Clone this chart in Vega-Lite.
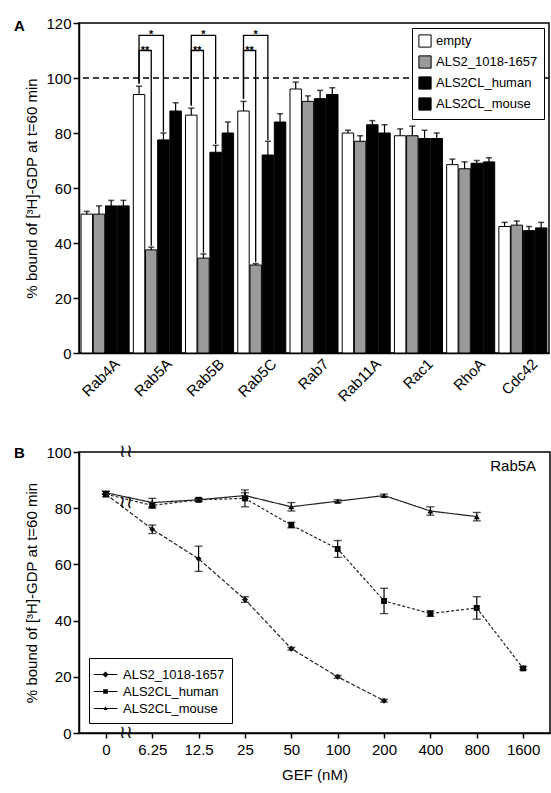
{
  "$schema": "https://vega.github.io/schema/vega-lite/v6.json",
  "background": "white",
  "padding": {"left": 13, "top": 15, "right": 0, "bottom": 5},
  "spacing": 37,
  "resolve": {"scale": {"fill": "independent", "shape": "independent", "strokeDash": "independent"}, "legend": {"fill": "independent", "shape": "independent", "strokeDash": "independent"}},
  "config": {
    "font": "Liberation Sans",
    "view": {"stroke": "black", "strokeWidth": 1.5},
    "axis": {"domainColor": "black", "domainWidth": 1.5, "tickColor": "black", "tickWidth": 1.5, "labelColor": "black", "titleColor": "black", "labelFontSize": 15, "titleFontSize": 15, "titleFontWeight": "normal", "grid": false},
    "legend": {"labelColor": "black", "labelFontSize": 13, "strokeColor": "black", "padding": 5, "fillColor": "white"},
    "title": {"color": "black"}
  },
  "datasets": {
    "bars": [
      {"gene": "Rab4A", "group": "empty", "value": 50.5, "err": 1},
      {"gene": "Rab4A", "group": "ALS2_1018-1657", "value": 50.5, "err": 3},
      {"gene": "Rab4A", "group": "ALS2CL_human", "value": 53.5, "err": 2},
      {"gene": "Rab4A", "group": "ALS2CL_mouse", "value": 53.5, "err": 2},
      {"gene": "Rab5A", "group": "empty", "value": 94, "err": 3},
      {"gene": "Rab5A", "group": "ALS2_1018-1657", "value": 37.5, "err": 1},
      {"gene": "Rab5A", "group": "ALS2CL_human", "value": 77.5, "err": 2.5},
      {"gene": "Rab5A", "group": "ALS2CL_mouse", "value": 88, "err": 3},
      {"gene": "Rab5B", "group": "empty", "value": 86.5, "err": 2.5},
      {"gene": "Rab5B", "group": "ALS2_1018-1657", "value": 34.5, "err": 1.5},
      {"gene": "Rab5B", "group": "ALS2CL_human", "value": 73, "err": 2.5},
      {"gene": "Rab5B", "group": "ALS2CL_mouse", "value": 80, "err": 4},
      {"gene": "Rab5C", "group": "empty", "value": 88, "err": 3.5},
      {"gene": "Rab5C", "group": "ALS2_1018-1657", "value": 32, "err": 0.5},
      {"gene": "Rab5C", "group": "ALS2CL_human", "value": 72, "err": 5},
      {"gene": "Rab5C", "group": "ALS2CL_mouse", "value": 84, "err": 3},
      {"gene": "Rab7", "group": "empty", "value": 96, "err": 2.5},
      {"gene": "Rab7", "group": "ALS2_1018-1657", "value": 91.5, "err": 2},
      {"gene": "Rab7", "group": "ALS2CL_human", "value": 92.5, "err": 3},
      {"gene": "Rab7", "group": "ALS2CL_mouse", "value": 94, "err": 2.5},
      {"gene": "Rab11A", "group": "empty", "value": 80, "err": 1},
      {"gene": "Rab11A", "group": "ALS2_1018-1657", "value": 77, "err": 2},
      {"gene": "Rab11A", "group": "ALS2CL_human", "value": 83, "err": 1.5},
      {"gene": "Rab11A", "group": "ALS2CL_mouse", "value": 80, "err": 3},
      {"gene": "Rac1", "group": "empty", "value": 79, "err": 2.5},
      {"gene": "Rac1", "group": "ALS2_1018-1657", "value": 79, "err": 3.5},
      {"gene": "Rac1", "group": "ALS2CL_human", "value": 78, "err": 3},
      {"gene": "Rac1", "group": "ALS2CL_mouse", "value": 78, "err": 2},
      {"gene": "RhoA", "group": "empty", "value": 68.5, "err": 2},
      {"gene": "RhoA", "group": "ALS2_1018-1657", "value": 67, "err": 2.5},
      {"gene": "RhoA", "group": "ALS2CL_human", "value": 69, "err": 1},
      {"gene": "RhoA", "group": "ALS2CL_mouse", "value": 69.5, "err": 1.5},
      {"gene": "Cdc42", "group": "empty", "value": 46, "err": 1.5},
      {"gene": "Cdc42", "group": "ALS2_1018-1657", "value": 46.5, "err": 1.5},
      {"gene": "Cdc42", "group": "ALS2CL_human", "value": 44.5, "err": 1.5},
      {"gene": "Cdc42", "group": "ALS2CL_mouse", "value": 45.5, "err": 2}
    ],
    "brackets": [
      {"bid": "5A-in", "gene": "Rab5A", "group": "empty", "y": 98, "ord": 1},
      {"bid": "5A-in", "gene": "Rab5A", "group": "empty", "y": 110, "ord": 2},
      {"bid": "5A-in", "gene": "Rab5A", "group": "ALS2_1018-1657", "y": 110, "ord": 3},
      {"bid": "5A-in", "gene": "Rab5A", "group": "ALS2_1018-1657", "y": 39, "ord": 4},
      {"bid": "5A-out", "gene": "Rab5A", "group": "empty", "y": 98, "ord": 1},
      {"bid": "5A-out", "gene": "Rab5A", "group": "empty", "y": 115.5, "ord": 2},
      {"bid": "5A-out", "gene": "Rab5A", "group": "ALS2CL_human", "y": 115.5, "ord": 3},
      {"bid": "5A-out", "gene": "Rab5A", "group": "ALS2CL_human", "y": 80.5, "ord": 4},
      {"bid": "5B-in", "gene": "Rab5B", "group": "empty", "y": 90, "ord": 1},
      {"bid": "5B-in", "gene": "Rab5B", "group": "empty", "y": 110, "ord": 2},
      {"bid": "5B-in", "gene": "Rab5B", "group": "ALS2_1018-1657", "y": 110, "ord": 3},
      {"bid": "5B-in", "gene": "Rab5B", "group": "ALS2_1018-1657", "y": 36.5, "ord": 4},
      {"bid": "5B-out", "gene": "Rab5B", "group": "empty", "y": 90, "ord": 1},
      {"bid": "5B-out", "gene": "Rab5B", "group": "empty", "y": 115.5, "ord": 2},
      {"bid": "5B-out", "gene": "Rab5B", "group": "ALS2CL_human", "y": 115.5, "ord": 3},
      {"bid": "5B-out", "gene": "Rab5B", "group": "ALS2CL_human", "y": 76, "ord": 4},
      {"bid": "5C-in", "gene": "Rab5C", "group": "empty", "y": 92.5, "ord": 1},
      {"bid": "5C-in", "gene": "Rab5C", "group": "empty", "y": 110, "ord": 2},
      {"bid": "5C-in", "gene": "Rab5C", "group": "ALS2_1018-1657", "y": 110, "ord": 3},
      {"bid": "5C-in", "gene": "Rab5C", "group": "ALS2_1018-1657", "y": 33, "ord": 4},
      {"bid": "5C-out", "gene": "Rab5C", "group": "empty", "y": 92.5, "ord": 1},
      {"bid": "5C-out", "gene": "Rab5C", "group": "empty", "y": 115.5, "ord": 2},
      {"bid": "5C-out", "gene": "Rab5C", "group": "ALS2CL_human", "y": 115.5, "ord": 3},
      {"bid": "5C-out", "gene": "Rab5C", "group": "ALS2CL_human", "y": 77.5, "ord": 4}
    ],
    "stars": [
      {"gene": "Rab5A", "group": "ALS2_1018-1657", "label": "*", "y": 115.5, "kind": "one"},
      {"gene": "Rab5B", "group": "ALS2_1018-1657", "label": "*", "y": 115.5, "kind": "one"},
      {"gene": "Rab5C", "group": "ALS2_1018-1657", "label": "*", "y": 115.5, "kind": "one"},
      {"gene": "Rab5A", "group": "empty", "label": "**", "y": 110, "kind": "two"},
      {"gene": "Rab5B", "group": "empty", "label": "**", "y": 110, "kind": "two"},
      {"gene": "Rab5C", "group": "empty", "label": "**", "y": 110, "kind": "two"}
    ],
    "curves": [
      {"series": "ALS2_1018-1657", "gef": "0", "value": 85, "lo": 85, "hi": 85},
      {"series": "ALS2_1018-1657", "gef": "6.25", "value": 72.5, "lo": 71, "hi": 74},
      {"series": "ALS2_1018-1657", "gef": "12.5", "value": 62, "lo": 57.5, "hi": 66.5},
      {"series": "ALS2_1018-1657", "gef": "25", "value": 47.5, "lo": 46.5, "hi": 48.5},
      {"series": "ALS2_1018-1657", "gef": "50", "value": 30, "lo": 29.5, "hi": 30.5},
      {"series": "ALS2_1018-1657", "gef": "100", "value": 20, "lo": 19.5, "hi": 20.5},
      {"series": "ALS2_1018-1657", "gef": "200", "value": 11.5, "lo": 11, "hi": 12},
      {"series": "ALS2CL_human", "gef": "0", "value": 85, "lo": 84, "hi": 86},
      {"series": "ALS2CL_human", "gef": "6.25", "value": 81, "lo": 80, "hi": 82},
      {"series": "ALS2CL_human", "gef": "12.5", "value": 83, "lo": 82.5, "hi": 83.5},
      {"series": "ALS2CL_human", "gef": "25", "value": 83.5, "lo": 80.5, "hi": 86.5},
      {"series": "ALS2CL_human", "gef": "50", "value": 74, "lo": 73, "hi": 75},
      {"series": "ALS2CL_human", "gef": "100", "value": 65.5, "lo": 62.5, "hi": 68.5},
      {"series": "ALS2CL_human", "gef": "200", "value": 47, "lo": 42.5, "hi": 51.5},
      {"series": "ALS2CL_human", "gef": "400", "value": 42.5, "lo": 41.5, "hi": 43.5},
      {"series": "ALS2CL_human", "gef": "800", "value": 44.5, "lo": 40.5, "hi": 48.5},
      {"series": "ALS2CL_human", "gef": "1600", "value": 23, "lo": 22.5, "hi": 23.5},
      {"series": "ALS2CL_mouse", "gef": "0", "value": 85.5, "lo": 85, "hi": 86},
      {"series": "ALS2CL_mouse", "gef": "6.25", "value": 82, "lo": 80.5, "hi": 83.5},
      {"series": "ALS2CL_mouse", "gef": "12.5", "value": 83, "lo": 82.5, "hi": 83.5},
      {"series": "ALS2CL_mouse", "gef": "25", "value": 84.5, "lo": 83.5, "hi": 85.5},
      {"series": "ALS2CL_mouse", "gef": "50", "value": 80.5, "lo": 79, "hi": 82},
      {"series": "ALS2CL_mouse", "gef": "100", "value": 82.5, "lo": 82, "hi": 83},
      {"series": "ALS2CL_mouse", "gef": "200", "value": 84.5, "lo": 84, "hi": 85},
      {"series": "ALS2CL_mouse", "gef": "400", "value": 79, "lo": 77.5, "hi": 80.5},
      {"series": "ALS2CL_mouse", "gef": "800", "value": 77, "lo": 75.5, "hi": 78.5}
    ],
    "notes": [
      {"label": "Rab5A", "gef": "1600", "y": 95}
    ],
    "breaks": [
      {"gef": "0", "y": 100},
      {"gef": "0", "y": 0},
      {"gef": "0", "y": 82}
    ]
  },
  "vconcat": [
    {
      "width": 470,
      "height": 330,
      "title": {"text": "A", "anchor": "start", "frame": "group", "dx": -65, "dy": 18, "fontSize": 15, "fontWeight": "bold", "offset": 0},
      "encoding": {
        "x": {"field": "gene", "type": "nominal", "sort": ["Rab4A", "Rab5A", "Rab5B", "Rab5C", "Rab7", "Rab11A", "Rac1", "RhoA", "Cdc42"], "scale": {"paddingInner": 0.08, "paddingOuter": 0.04}, "axis": {"title": null, "labelAngle": -45, "labelAlign": "right", "labelBaseline": "middle", "labelFontSize": 15, "ticks": false, "labelPadding": 8, "labelOffset": 12}},
        "xOffset": {"field": "group", "type": "nominal", "sort": ["empty", "ALS2_1018-1657", "ALS2CL_human", "ALS2CL_mouse"], "scale": {"paddingInner": 0.06}}
      },
      "layer": [
        {
          "data": {"name": "bars"},
          "mark": {"type": "bar", "stroke": "black", "strokeWidth": 1},
          "encoding": {
            "y": {"field": "value", "type": "quantitative", "scale": {"domain": [0, 120], "nice": false}, "axis": {"title": "% bound of [³H]-GDP at t=60 min", "values": [0, 20, 40, 60, 80, 100, 120], "tickSize": 6, "labelPadding": 2, "titlePadding": 6}},
            "fill": {"field": "group", "type": "nominal", "sort": ["empty", "ALS2_1018-1657", "ALS2CL_human", "ALS2CL_mouse"], "scale": {"domain": ["empty", "ALS2_1018-1657", "ALS2CL_human", "ALS2CL_mouse"], "range": ["white", "#9a9a9a", "black", "black"]}, "legend": {"title": null, "orient": "top-right", "offset": 5, "symbolType": "square", "symbolSize": 150, "symbolStrokeColor": "black", "symbolStrokeWidth": 1, "rowPadding": 3, "labelFontSize": 13, "padding": 6}}
          }
        },
        {
          "data": {"name": "bars"},
          "mark": {"type": "rule", "color": "black", "strokeWidth": 1.2},
          "encoding": {
            "y": {"field": "value", "type": "quantitative"},
            "y2": {"field": "hi"}
          },
          "transform": [{"calculate": "datum.value + datum.err", "as": "hi"}]
        },
        {
          "data": {"name": "bars"},
          "transform": [{"calculate": "datum.value + datum.err", "as": "hi"}],
          "mark": {"type": "tick", "color": "black", "thickness": 1.5, "size": 6, "orient": "horizontal"},
          "encoding": {
            "y": {"field": "hi", "type": "quantitative"}
          }
        },
        {
          "data": {"values": [{"ref": 100}]},
          "mark": {"type": "rule", "color": "black", "strokeDash": [6, 4], "strokeWidth": 1.3},
          "encoding": {"y": {"field": "ref", "type": "quantitative"}, "x": null, "xOffset": null}
        },
        {
          "data": {"name": "brackets"},
          "mark": {"type": "line", "color": "black", "strokeWidth": 1.3, "interpolate": "linear"},
          "encoding": {
            "y": {"field": "y", "type": "quantitative"},
            "detail": {"field": "bid"},
            "order": {"field": "ord", "type": "quantitative"}
          }
        },
        {
          "data": {"name": "stars"},
          "transform": [{"filter": "datum.kind == 'one'"}],
          "mark": {"type": "text", "fontSize": 11, "fontWeight": "bold", "baseline": "middle", "color": "black"},
          "encoding": {"y": {"field": "y", "type": "quantitative"}, "text": {"field": "label"}}
        },
        {
          "data": {"name": "stars"},
          "transform": [{"filter": "datum.kind == 'two'"}],
          "mark": {"type": "text", "fontSize": 11, "fontWeight": "bold", "baseline": "middle", "dx": 6, "color": "black"},
          "encoding": {"y": {"field": "y", "type": "quantitative"}, "text": {"field": "label"}}
        }
      ]
    },
    {
      "width": 471,
      "height": 281,
      "title": {"text": "B", "anchor": "start", "frame": "group", "dx": -65, "dy": 18, "fontSize": 15, "fontWeight": "bold", "offset": 0},
      "resolve": {"scale": {"shape": "independent"}, "legend": {"shape": "independent"}},
      "encoding": {
        "x": {"field": "gef", "type": "ordinal", "sort": ["0", "6.25", "12.5", "25", "50", "100", "200", "400", "800", "1600"], "scale": {"type": "point", "padding": 0.58, "domain": ["0", "6.25", "12.5", "25", "50", "100", "200", "400", "800", "1600"]}, "axis": {"title": "GEF (nM)", "labelAngle": 0, "tickSize": 5, "labelPadding": 4, "titlePadding": 10, "labelFontSize": 15, "titleFontSize": 15}}
      },
      "layer": [
        {
          "data": {"name": "curves"},
          "mark": {"type": "rule", "color": "black", "strokeWidth": 1.2},
          "encoding": {
            "y": {"field": "lo", "type": "quantitative", "scale": {"domain": [0, 100], "nice": false}, "axis": {"title": "% bound of [³H]-GDP at t=60 min", "values": [0, 20, 40, 60, 80, 100], "tickSize": 6, "labelPadding": 2, "titlePadding": 6}},
            "y2": {"field": "hi"}
          }
        },
        {
          "data": {"name": "curves"},
          "mark": {"type": "tick", "color": "black", "thickness": 1.3, "size": 8, "orient": "horizontal"},
          "encoding": {"y": {"field": "lo", "type": "quantitative"}}
        },
        {
          "data": {"name": "curves"},
          "mark": {"type": "tick", "color": "black", "thickness": 1.3, "size": 8, "orient": "horizontal"},
          "encoding": {"y": {"field": "hi", "type": "quantitative"}}
        },
        {
          "data": {"name": "curves"},
          "mark": {"type": "point", "filled": true, "color": "black", "opacity": 1, "size": 35},
          "encoding": {
            "y": {"field": "value", "type": "quantitative"},
            "shape": {"field": "series", "type": "nominal", "scale": {"domain": ["ALS2_1018-1657", "ALS2CL_human", "ALS2CL_mouse"], "range": ["diamond", "square", "triangle-up"]}, "legend": null}
          }
        },
        {
          "data": {"name": "curves"},
          "transform": [{"filter": "datum.value < 0"}],
          "mark": {"type": "point", "filled": true, "color": "black", "opacity": 1},
          "encoding": {
            "y": {"field": "value", "type": "quantitative"},
            "shape": {"field": "series", "type": "nominal", "scale": {"domain": ["ALS2_1018-1657", "ALS2CL_human", "ALS2CL_mouse"], "range": ["M-1.3,-0.05H1.3V0.05H-1.3ZM0,-0.34L0.34,0L0,0.34L-0.34,0Z", "M-1.3,-0.05H1.3V0.05H-1.3ZM-0.26,-0.26H0.26V0.26H-0.26Z", "M-1.3,-0.05H1.3V0.05H-1.3ZM0,-0.24L0.22,0.16H-0.22Z"]}, "legend": {"title": null, "orient": "bottom-left", "offset": 10, "labelFontSize": 13, "rowPadding": 0, "padding": 7, "labelOffset": 8, "symbolSize": 330, "symbolFillColor": "black", "symbolStrokeColor": "black", "symbolStrokeWidth": 0}}
          }
        },
        {
          "data": {"name": "curves"},
          "mark": {"type": "line", "color": "#222222", "strokeWidth": 1.2},
          "encoding": {
            "y": {"field": "value", "type": "quantitative"},
            "strokeDash": {"field": "series", "type": "nominal", "scale": {"domain": ["ALS2_1018-1657", "ALS2CL_human", "ALS2CL_mouse"], "range": [[4, 2], [3, 2], [1, 0]]}, "legend": null}
          }
        },
        {
          "data": {"name": "notes"},
          "mark": {"type": "text", "fontSize": 15, "align": "right", "baseline": "middle", "dx": 13, "color": "black"},
          "encoding": {"y": {"field": "y", "type": "quantitative"}, "text": {"field": "label"}}
        },
        {
          "data": {"name": "breaks"},
          "mark": {"type": "text", "text": "≀≀", "fontSize": 18, "dx": 20, "baseline": "middle", "color": "black"},
          "encoding": {"y": {"field": "y", "type": "quantitative"}}
        }
      ]
    }
  ]
}
